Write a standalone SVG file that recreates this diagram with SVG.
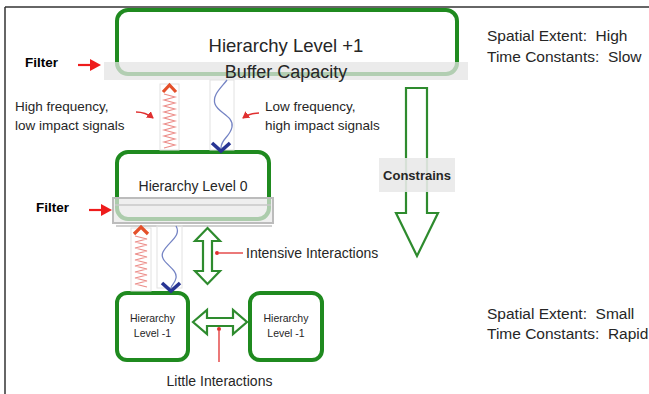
<svg xmlns="http://www.w3.org/2000/svg" width="649" height="394" viewBox="0 0 649 394">
<style>
.t{font-family:"Liberation Sans",Arial,sans-serif;fill:#262626;white-space:pre}
.f{font-family:"Liberation Sans",Arial,sans-serif;font-weight:bold;font-size:13.5px;fill:#000}
.box{fill:#fff;stroke:#1f8a1f;stroke-width:4}
.harrow{fill:#fff;stroke:#2e8b2e;stroke-width:2.2;stroke-linejoin:miter}
.spring{fill:none;stroke:#ec8c88;stroke-width:1.1}
.sbox{fill:none;stroke:#e2e2e2;stroke-width:1}
.wave{fill:none;stroke:#7584c4;stroke-width:1.3}
.chevR{fill:none;stroke:#e4502a;stroke-width:3.2}
.chevB{fill:none;stroke:#283593;stroke-width:3.6}
.red{stroke:#e03030;stroke-width:1.5;fill:none}
</style>
<defs>
<marker id="ra" markerWidth="8" markerHeight="8" refX="6" refY="4" orient="auto" markerUnits="userSpaceOnUse"><path d="M0,0 L7,4 L0,8 Z" fill="#e03030"/></marker>
</defs>
<!-- frame -->
<g id="frame" stroke="#333" stroke-width="1.5" fill="none">
<line x1="5" y1="7" x2="649" y2="7"/>
<line x1="5" y1="7" x2="5" y2="394"/>
</g>
<!-- top node -->
<g id="level-plus1">
<rect class="box" x="117" y="10" width="340" height="64" rx="11"/>
<rect x="104" y="62" width="364" height="18" fill="#e4e4e4" fill-opacity="0.75"/>
<text class="t" x="286" y="52" font-size="18.5" text-anchor="middle">Hierarchy Level +1</text>
<text class="t" x="286" y="78" font-size="18" text-anchor="middle">Buffer Capacity</text>
</g>
<g id="filter1">
<text class="f" x="25" y="67">Filter</text>
<line x1="78" y1="65" x2="92" y2="65" stroke="#ee1c1c" stroke-width="2.2"/>
<path d="M90,59 L101,65 L90,71 Z" fill="#ee1c1c"/>
</g>
<g id="info-top">
<text class="t" x="487" y="41" font-size="15.5">Spatial Extent:  High</text>
<text class="t" x="487" y="62" font-size="15.5">Time Constants:  Slow</text>
</g>
<g id="signal-labels">
<text class="t" x="15" y="111" font-size="13.5">High frequency,</text>
<text class="t" x="15" y="130" font-size="13.5">low impact signals</text>
<text class="t" x="265" y="111" font-size="13.5">Low frequency,</text>
<text class="t" x="265" y="130" font-size="13.5">high impact signals</text>
</g>
<!-- level 0 -->
<g id="level-0">
<rect class="box" x="117" y="152" width="152" height="67" rx="11"/>
<text class="t" x="193" y="191" font-size="14" text-anchor="middle">Hierarchy Level 0</text>
<rect x="113" y="198" width="160" height="25" fill="#e8e8e8" fill-opacity="0.7" stroke="#bcbcbc" stroke-width="2"/>
<line x1="115" y1="205" x2="271" y2="205" stroke="#c8c8c8" stroke-width="1.5"/>
<line x1="116" y1="226" x2="272" y2="226" stroke="#d0d0d0" stroke-width="2"/>
</g>
<g id="filter2">
<text class="f" x="36" y="212">Filter</text>
<line x1="89" y1="210" x2="103" y2="210" stroke="#ee1c1c" stroke-width="2.2"/>
<path d="M101,204 L112,210 L101,216 Z" fill="#ee1c1c"/>
</g>
<!-- level -1 -->
<g id="level-m1-left">
<rect class="box" x="117" y="293" width="71" height="67" rx="10"/>
<text class="t" x="152.5" y="322" font-size="10.5" text-anchor="middle">Hierarchy</text>
<text class="t" x="152.5" y="337" font-size="10.5" text-anchor="middle">Level -1</text>
</g>
<g id="level-m1-right">
<rect class="box" x="250" y="293" width="72" height="67" rx="10"/>
<text class="t" x="286" y="322" font-size="10.5" text-anchor="middle">Hierarchy</text>
<text class="t" x="286" y="337" font-size="10.5" text-anchor="middle">Level -1</text>
</g>
<g id="info-bottom">
<text class="t" x="487" y="319" font-size="15.5">Spatial Extent:  Small</text>
<text class="t" x="487" y="339" font-size="15.5">Time Constants:  Rapid</text>
</g>
<!-- connectors -->
<g id="connectors">
<!-- upper signals -->
<rect class="sbox" x="160" y="84" width="19" height="66"/>
<path class="spring" d="M164,94 L175,97 L164,100 L175,103 L164,106 L175,109 L164,112 L175,115 L164,118 L175,121 L164,124 L175,127 L164,130 L175,133 L164,136 L175,139 L164,142 L175,145 L164,148"/>
<path class="chevR" d="M163,92 L169.5,85 L176,92"/>
<rect class="sbox" x="210" y="80" width="24" height="70"/>
<path class="wave" d="M227,80 C221,88 212,95 215,104 C218,113 234,116 232,127 C230,137 221,139 221,148"/>
<path class="chevB" d="M212,143 L221,151 L230,143"/>
<path class="red" d="M136,112 C143,112 148,114 153,118" marker-end="url(#ra)"/>
<path class="red" d="M259,113 C252,113 247,115 243,118" marker-end="url(#ra)"/>
<!-- lower signals -->
<rect class="sbox" x="131" y="228" width="20" height="63"/>
<path class="spring" d="M135,236 L147,239 L135,242 L147,245 L135,248 L147,251 L135,254 L147,257 L135,260 L147,263 L135,266 L147,269 L135,272 L147,275 L135,278 L147,281 L135,284 L147,287"/>
<path class="chevR" d="M134,234 L141,227 L148,234"/>
<rect class="sbox" x="157" y="226" width="25" height="62"/>
<path class="wave" d="M176,226 C182,236 168,242 163,252 C158,262 178,268 176,278 C175,284 171,285 171,288"/>
<path class="chevB" d="M162,283 L171,291 L180,283"/>
<!-- constrains -->
<path class="harrow" d="M406,88 L427,88 L427,213 L438,213 L417,256 L396,213 L406,213 Z"/>
<rect x="379" y="158" width="76" height="34" fill="#e9e9e9" fill-opacity="0.9"/>
<text class="t" x="417" y="180" font-size="13" font-weight="bold" text-anchor="middle">Constrains</text>
<!-- intensive -->
<path class="harrow" d="M207.5,228 L220,241 L212,241 L212,271 L220,271 L207.5,284 L195,271 L203,271 L203,241 L195,241 Z"/>
<line x1="243" y1="253" x2="219" y2="253" stroke="#e03030" stroke-width="1.3"/>
<circle cx="217" cy="253" r="2" fill="#e03030"/>
<text class="t" x="246" y="258" font-size="14">Intensive Interactions</text>
<!-- little -->
<path class="harrow" d="M193,322 L207,310 L207,318 L233,318 L233,310 L247,322 L233,334 L233,326 L207,326 L207,334 Z"/>
<line x1="219" y1="362" x2="219" y2="331" stroke="#e03030" stroke-width="1.3"/>
<circle cx="219" cy="329" r="2" fill="#e03030"/>
<text class="t" x="219.5" y="386" font-size="14" text-anchor="middle">Little Interactions</text>
</g>
</svg>
